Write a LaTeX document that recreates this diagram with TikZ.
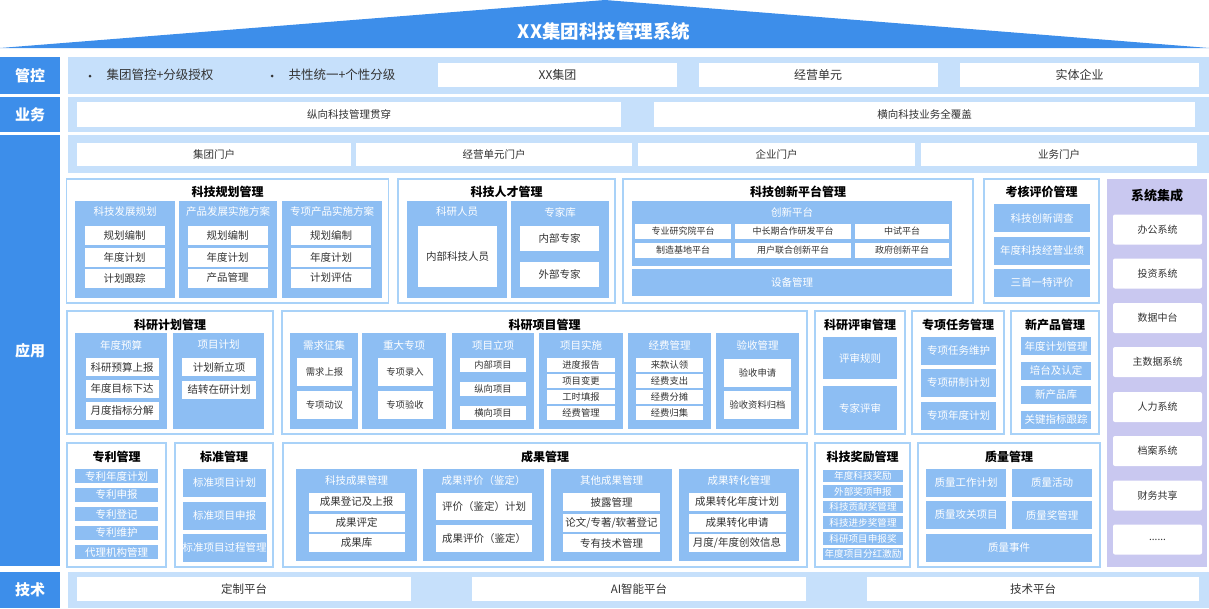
\documentclass[tikz,border=0pt]{standalone}
\usepackage{fontspec}
\setmainfont{Noto Sans CJK SC}
\usetikzlibrary{positioning}
\definecolor{hdblue}{HTML}{3D8EEA}
\definecolor{bandblue}{HTML}{C6E0FB}
\definecolor{framecol}{HTML}{A9D2F8}
\definecolor{subblue}{HTML}{8DBEF3}
\definecolor{lavender}{HTML}{C9C8F0}
\definecolor{txtgray}{HTML}{333333}
\newcommand{\setfs}[1]{\fontsize{#1}{#1}\selectfont}
\tikzset{
  sz/.style 2 args={minimum width=#1pt,minimum height=#2pt},
  lbl/.style={fill=hdblue,text=white,inner sep=0pt,font=\setfs{15}\bfseries},
  wbox/.style={fill=white,text=txtgray,inner sep=0pt,font=\setfs{10.5}},
  modframe/.style={draw=framecol,line width=1.5pt,fill=white,inner sep=0pt},
  mtitle/.style={inner sep=0pt,font=\setfs{12}\bfseries},
  sbox/.style={fill=subblue,text=white,inner sep=0pt,font=\setfs{10.5}},
  stitle/.style={text=white,inner sep=0pt,font=\setfs{10.5}},
  item/.style={fill=white,text=txtgray,inner sep=0pt,font=\setfs{10.5}},
  smallitem/.style={fill=white,text=txtgray,inner sep=0pt,font=\setfs{9.3}},
  sysbox/.style={fill=white,rounded corners=2pt,text=txtgray,inner sep=0pt,font=\setfs{10},minimum width=89pt,minimum height=30pt},
  dotmark/.style={circle,fill=txtgray,inner sep=0pt,minimum size=3pt}
}
\begin{document}
\begin{tikzpicture}[x=1pt,y=-1pt]
                \useasboundingbox (0,0) rectangle (1209,608);
                \fill[hdblue] (0,48) -- (605,0) -- (1209,48) -- cycle;
                \node[text=white,font=\setfs{18.5}\bfseries] (title) at (604,31) {XX集团科技管理系统};

                \fill[bandblue] (68,57) rectangle (1209,94);
                \fill[bandblue] (68,97) rectangle (1209,132);
                \fill[bandblue] (68,135) rectangle (1209,173);
                \fill[bandblue] (68,572) rectangle (1209,608);
                \node[lbl,sz={60}{37}] (gk) at (30,75.5) {管控};
                \node[lbl,sz={60}{35}] (yw) at (30,114.5) {业务};
                \node[lbl,sz={60}{431}] (yy) at (30,350.5) {应用};
                \node[lbl,sz={60}{36}] (js) at (30,590) {技术};

                \node[dotmark] (dot1) at (90,76) {};
                \node[anchor=west,text=txtgray,font=\setfs{12.5}] (gk1) at (103,75) {集团管控+分级授权};
                \node[dotmark] (dot2) at (272,76) {};
                \node[anchor=west,text=txtgray,font=\setfs{12.5}] (gk2) at (285,75) {共性统一+个性分级};
                \node[wbox,sz={239}{24},font=\setfs{12}] (gk3) at (557.5,75) {XX集团};
                \node[wbox,sz={239}{24},font=\setfs{12}] (gk4) at (818,75) {经营单元};
                \node[wbox,sz={239}{24},font=\setfs{12}] (gk5) at (1079.5,75) {实体企业};

                \node[wbox,sz={544}{25}] (yw1) at (349,114.5) {纵向科技管理贯穿};
                \node[wbox,sz={541}{25}] (yw2) at (924.5,114.5) {横向科技业务全覆盖};

                \node[wbox,sz={274}{23}] (mh1) at (214,154.5) {集团门户};
                \node[wbox,sz={276}{23}] (mh2) at (494,154.5) {经营单元门户};
                \node[wbox,sz={277}{23}] (mh3) at (776.5,154.5) {企业门户};
                \node[wbox,sz={276}{23}] (mh4) at (1059,154.5) {业务门户};

                \node[wbox,sz={334}{24},font=\setfs{11.5}] (js1) at (244,589) {定制平台};
                \node[wbox,sz={334}{24},font=\setfs{11.5}] (js2) at (639,589) {AI智能平台};
                \node[wbox,sz={332}{24},font=\setfs{11.5}] (js3) at (1033,589) {技术平台};

                \node[modframe,sz={322}{124}] (ghk) at (227.5,241) {};
                \node[mtitle] (ght) at (227.5,192) {科技规划管理};
                \node[sbox,sz={100}{97}] (gh1) at (125,249.5) {};
                \node[stitle] (gh1t) at (125,212) {科技发展规划};
                \node[item,sz={80}{19}] (gh1a) at (124.5,235.5) {规划编制};
                \node[item,sz={80}{19}] (gh1b) at (124.5,257) {年度计划};
                \node[item,sz={80}{19}] (gh1c) at (124.5,278) {计划跟踪};
                \node[sbox,sz={98}{97}] (gh2) at (228,249.5) {};
                \node[stitle] (gh2t) at (228,212) {产品发展实施方案};
                \node[item,sz={80}{19}] (gh2a) at (227.5,235.5) {规划编制};
                \node[item,sz={80}{19}] (gh2b) at (227.5,257) {年度计划};
                \node[item,sz={80}{19}] (gh2c) at (227.5,278) {产品管理};
                \node[sbox,sz={100}{97}] (gh3) at (332,249.5) {};
                \node[stitle] (gh3t) at (332,212) {专项产品实施方案};
                \node[item,sz={80}{19}] (gh3a) at (331,235.5) {规划编制};
                \node[item,sz={80}{19}] (gh3b) at (331,257) {年度计划};
                \node[item,sz={80}{19}] (gh3c) at (331,278) {计划评估};

                \node[modframe,sz={217}{124}] (rck) at (506.5,241) {};
                \node[mtitle] (rct) at (506.5,192) {科技人才管理};
                \node[sbox,sz={100}{97}] (rc1) at (457,249.5) {};
                \node[stitle] (rc1t) at (457,212) {科研人员};
                \node[item,sz={79}{61}] (rc1a) at (457.5,256.5) {内部科技人员};
                \node[sbox,sz={98}{97}] (rc2) at (560,249.5) {};
                \node[stitle] (rc2t) at (560,212) {专家库};
                \node[item,sz={79}{25}] (rc2a) at (559.5,238.5) {内部专家};
                \node[item,sz={79}{25}] (rc2b) at (559.5,274.5) {外部专家};

                \node[modframe,sz={350}{124}] (cxk) at (798,241) {};
                \node[mtitle] (cxt) at (798,192) {科技创新平台管理};
                \node[sbox,sz={320}{65}] (cx1) at (792,233.5) {};
                \node[stitle] (cx1t) at (792,212) {创新平台};
                \node[smallitem,sz={96}{15},font=\setfs{9}] (cx1a) at (683,231.5) {专业研究院平台};
                \node[smallitem,sz={116}{15},font=\setfs{9}] (cx1b) at (793,231.5) {中长期合作研发平台};
                \node[smallitem,sz={94}{15},font=\setfs{9}] (cx1c) at (902,231.5) {中试平台};
                \node[smallitem,sz={96}{15},font=\setfs{9}] (cx1d) at (683,250.5) {制造基地平台};
                \node[smallitem,sz={116}{15},font=\setfs{9}] (cx1e) at (793,250.5) {用户联合创新平台};
                \node[smallitem,sz={94}{15},font=\setfs{9}] (cx1f) at (902,250.5) {政府创新平台};
                \node[sbox,sz={320}{27}] (cx2) at (792,282.5) {设备管理};

                \node[modframe,sz={115}{124}] (khk) at (1041.5,241) {};
                \node[mtitle] (kht) at (1041.5,192) {考核评价管理};
                \node[sbox,sz={96}{28}] (kh1) at (1042,218) {科技创新调查};
                \node[sbox,sz={96}{28}] (kh2) at (1042,250.5) {年度科技经营业绩};
                \node[sbox,sz={96}{28}] (kh3) at (1042,283) {三首一特评价};

                \fill[lavender] (1107,179) rectangle (1207,567);
                \node[font=\setfs{13}\bfseries] (jc) at (1157,196) {系统集成};
                \node[sysbox] (jc1) at (1157.5,229.5) {办公系统};
                \node[sysbox] (jc2) at (1157.5,273.5) {投资系统};
                \node[sysbox] (jc3) at (1157.5,318) {数据中台};
                \node[sysbox] (jc4) at (1157.5,362) {主数据系统};
                \node[sysbox] (jc5) at (1157.5,407) {人力系统};
                \node[sysbox] (jc6) at (1157.5,451) {档案系统};
                \node[sysbox] (jc7) at (1157.5,495.5) {财务共享};
                \node[sysbox] (jc8) at (1157.5,539.5) {......};

                \node[modframe,sz={206}{123}] (jhk) at (170,372.5) {};
                \node[mtitle] (jht) at (170,325) {科研计划管理};
                \node[sbox,sz={92}{96}] (jh1) at (121,381) {};
                \node[stitle] (jh1t) at (121,345) {年度预算};
                \node[item,sz={73}{18}] (jh1a) at (122,367) {科研预算上报};
                \node[item,sz={73}{18}] (jh1b) at (122,388.5) {年度目标下达};
                \node[item,sz={73}{18}] (jh1c) at (122,410.5) {月度指标分解};
                \node[sbox,sz={91}{96}] (jh2) at (218.5,381) {};
                \node[stitle] (jh2t) at (218.5,345) {项目计划};
                \node[item,sz={74}{18}] (jh2a) at (219,367) {计划新立项};
                \node[item,sz={74}{18}] (jh2b) at (219,389.5) {结转在研计划};

                \node[modframe,sz={525}{123}] (xmk) at (544.5,372.5) {};
                \node[mtitle] (xmt) at (544.5,325) {科研项目管理};
                \node[sbox,sz={68}{96}] (xm1) at (324,381) {};
                \node[stitle] (xm1t) at (324,345) {需求征集};
                \node[smallitem,sz={55}{28}] (xm1a) at (324.5,372) {需求上报};
                \node[smallitem,sz={55}{28}] (xm1b) at (324.5,404.5) {专项动议};
                \node[sbox,sz={84}{96}] (xm2) at (404,381) {};
                \node[stitle] (xm2t) at (404,345) {重大专项};
                \node[smallitem,sz={55}{28}] (xm2a) at (405,372) {专项录入};
                \node[smallitem,sz={55}{28}] (xm2b) at (405,404.5) {专项验收};
                \node[sbox,sz={82}{96}] (xm3) at (493,381) {};
                \node[stitle] (xm3t) at (493,345) {项目立项};
                \node[smallitem,sz={66}{14}] (xm3a) at (493,365) {内部项目};
                \node[smallitem,sz={66}{14}] (xm3b) at (493,389) {纵向项目};
                \node[smallitem,sz={66}{14}] (xm3c) at (493,412.5) {横向项目};
                \node[sbox,sz={84}{96}] (xm4) at (581,381) {};
                \node[stitle] (xm4t) at (581,345) {项目实施};
                \node[smallitem,sz={68}{14}] (xm4a) at (581,365) {进度报告};
                \node[smallitem,sz={68}{14}] (xm4b) at (581,381) {项目变更};
                \node[smallitem,sz={68}{14}] (xm4c) at (581,397) {工时填报};
                \node[smallitem,sz={68}{14}] (xm4d) at (581,413) {经费管理};
                \node[sbox,sz={83}{96}] (xm5) at (669.5,381) {};
                \node[stitle] (xm5t) at (669.5,345) {经费管理};
                \node[smallitem,sz={67}{14}] (xm5a) at (669.5,365) {来款认领};
                \node[smallitem,sz={67}{14}] (xm5b) at (669.5,381) {经费支出};
                \node[smallitem,sz={67}{14}] (xm5c) at (669.5,397) {经费分摊};
                \node[smallitem,sz={67}{14}] (xm5d) at (669.5,413) {经费归集};
                \node[sbox,sz={83}{96}] (xm6) at (757.5,381) {};
                \node[stitle] (xm6t) at (757.5,345) {验收管理};
                \node[smallitem,sz={67}{28}] (xm6a) at (757.5,372.5) {验收申请};
                \node[smallitem,sz={67}{28}] (xm6b) at (757.5,405) {验收资料归档};

                \node[modframe,sz={90}{123}] (psk) at (860,372.5) {};
                \node[mtitle] (pst) at (860,325) {科研评审管理};
                \node[sbox,sz={74}{42}] (ps1) at (860,358) {评审规则};
                \node[sbox,sz={74}{44}] (ps2) at (860,408) {专家评审};

                \node[modframe,sz={92}{123}] (zxk) at (958,372.5) {};
                \node[mtitle] (zxt) at (958,325) {专项任务管理};
                \node[sbox,sz={75}{28}] (zx1) at (958.5,351) {专项任务维护};
                \node[sbox,sz={75}{28}] (zx2) at (958.5,383) {专项研制计划};
                \node[sbox,sz={75}{28}] (zx3) at (958.5,415.5) {专项年度计划};

                \node[modframe,sz={88}{123}] (xck) at (1055,372.5) {};
                \node[mtitle] (xct) at (1055,325) {新产品管理};
                \node[sbox,sz={70}{18}] (xc1) at (1056,346) {年度计划管理};
                \node[sbox,sz={70}{18}] (xc2) at (1056,370.5) {培台及认定};
                \node[sbox,sz={70}{18}] (xc3) at (1056,394.5) {新产品库};
                \node[sbox,sz={70}{18}] (xc4) at (1056,419.5) {关键指标跟踪};

                \node[modframe,sz={99}{124}] (zlk) at (116.5,505) {};
                \node[mtitle] (zlt) at (116.5,457) {专利管理};
                \node[sbox,sz={83}{14}] (zl1) at (116.5,476) {专利年度计划};
                \node[sbox,sz={83}{14}] (zl2) at (116.5,495) {专利申报};
                \node[sbox,sz={83}{14}] (zl3) at (116.5,514) {专利登记};
                \node[sbox,sz={83}{14}] (zl4) at (116.5,533) {专利维护};
                \node[sbox,sz={83}{14}] (zl5) at (116.5,552) {代理机构管理};

                \node[modframe,sz={98}{124}] (bzk) at (224,505) {};
                \node[mtitle] (bzt) at (224,457) {标准管理};
                \node[sbox,sz={83}{28}] (bz1) at (224.5,483) {标准项目计划};
                \node[sbox,sz={83}{28}] (bz2) at (224.5,515.5) {标准项目申报};
                \node[sbox,sz={83}{28}] (bz3) at (224.5,547.5) {标准项目过程管理};

                \node[modframe,sz={524}{124}] (cgk) at (545,505) {};
                \node[mtitle] (cgt) at (545,457) {成果管理};
                \node[sbox,sz={121}{92}] (cg1) at (356.5,515) {};
                \node[stitle] (cg1t) at (356.5,481) {科技成果管理};
                \node[item,sz={96}{18}] (cg1a) at (356.5,502) {成果登记及上报};
                \node[item,sz={96}{18}] (cg1b) at (356.5,522.5) {成果评定};
                \node[item,sz={96}{18}] (cg1c) at (356.5,543) {成果库};
                \node[sbox,sz={121}{92}] (cg2) at (483.5,515) {};
                \node[stitle] (cg2t) at (483.5,481) {成果评价（鉴定）};
                \node[item,sz={96}{27}] (cg2a) at (484,506.5) {评价（鉴定）计划};
                \node[item,sz={96}{27}] (cg2b) at (484,538.5) {成果评价（鉴定）};
                \node[sbox,sz={121}{92}] (cg3) at (611.5,515) {};
                \node[stitle] (cg3t) at (611.5,481) {其他成果管理};
                \node[item,sz={97}{18}] (cg3a) at (611.5,502) {披露管理};
                \node[item,sz={97}{18}] (cg3b) at (611.5,522.5) {论文/专著/软著登记};
                \node[item,sz={97}{18}] (cg3c) at (611.5,543) {专有技术管理};
                \node[sbox,sz={120}{92}] (cg4) at (739,515) {};
                \node[stitle] (cg4t) at (739,481) {成果转化管理};
                \node[item,sz={97}{18}] (cg4a) at (737,502) {成果转化年度计划};
                \node[item,sz={97}{18}] (cg4b) at (737,522.5) {成果转化申请};
                \node[item,sz={97}{18}] (cg4c) at (737,543) {月度/年度创效信息};

                \node[modframe,sz={95}{124}] (jlk) at (862.5,505) {};
                \node[mtitle] (jlt) at (862.5,457) {科技奖励管理};
                \node[sbox,sz={80}{12.5},font=\setfs{9.6}] (jl1) at (863,476) {年度科技奖励};
                \node[sbox,sz={80}{12.5},font=\setfs{9.6}] (jl2) at (863,491.5) {外部奖项申报};
                \node[sbox,sz={80}{12.5},font=\setfs{9.6}] (jl3) at (863,507) {科技贡献奖管理};
                \node[sbox,sz={80}{12.5},font=\setfs{9.6}] (jl4) at (863,522.5) {科技进步奖管理};
                \node[sbox,sz={80}{12.5},font=\setfs{9.6}] (jl5) at (863,538.5) {科研项目申报奖};
                \node[sbox,sz={80}{12.5},font=\setfs{9.6}] (jl6) at (863,554) {年度项目分红激励};

                \node[modframe,sz={182}{124}] (zhk) at (1009,505) {};
                \node[mtitle] (zht) at (1009,457) {质量管理};
                \node[sbox,sz={80}{28}] (zh1) at (966,483) {质量工作计划};
                \node[sbox,sz={80}{28}] (zh2) at (1052,483) {质量活动};
                \node[sbox,sz={80}{28}] (zh3) at (966,515) {质量攻关项目};
                \node[sbox,sz={80}{28}] (zh4) at (1052,515) {质量奖管理};
                \node[sbox,sz={166}{28}] (zh5) at (1009,548) {质量事件};
            \end{tikzpicture}
\end{document}
